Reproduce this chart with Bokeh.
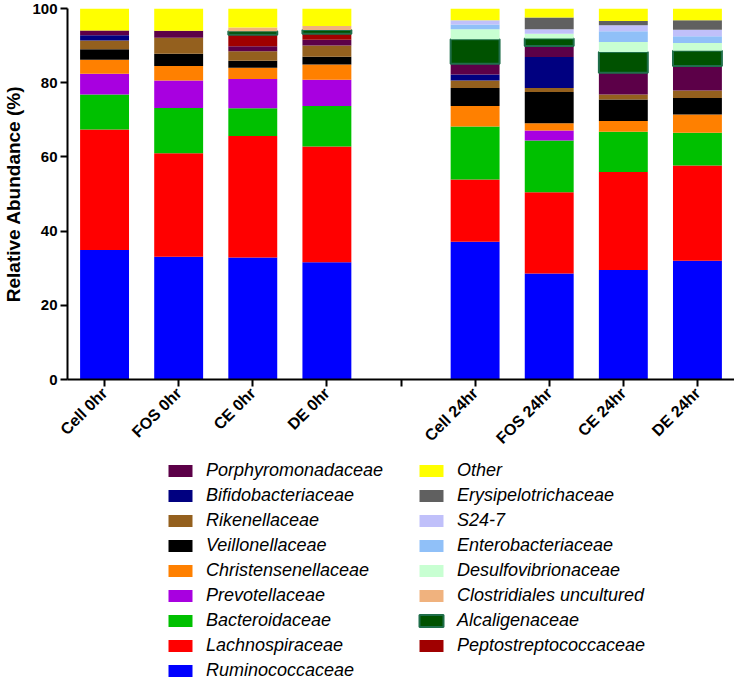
import math
from bokeh.plotting import figure
from bokeh.layouts import column
from bokeh.models import Legend, LegendItem, FactorRange, Range1d, ColumnDataSource
from bokeh.embed import file_html
from bokeh.resources import INLINE

# ---- data ----
slots = ["Cell 0hr", "FOS 0hr", "CE 0hr", "DE 0hr", " ", "Cell 24hr", "FOS 24hr", "CE 24hr", "DE 24hr"]
samples = ["Cell 0hr", "FOS 0hr", "CE 0hr", "DE 0hr", "Cell 24hr", "FOS 24hr", "CE 24hr", "DE 24hr"]

Ruminococcaceae = [34.9, 33.1, 32.9, 31.6, 37.1, 28.6, 29.5, 32.0]
Lachnospiraceae = [32.5, 27.9, 32.7, 31.2, 16.8, 21.9, 26.4, 25.7]
Bacteroidaceae = [9.4, 12.2, 7.5, 10.9, 14.3, 13.9, 10.9, 8.8]
Prevotellaceae = [5.6, 7.4, 7.9, 7.1, 0.0, 2.7, 0.0, 0.0]
Christensenellaceae = [3.8, 3.9, 3.0, 4.1, 5.5, 2.0, 2.9, 4.9]
Veillonellaceae = [2.8, 3.3, 1.9, 2.1, 4.9, 8.4, 5.8, 4.5]
Rikenellaceae = [2.4, 4.3, 2.6, 3.0, 2.0, 1.1, 1.3, 2.0]
Bifidobacteriaceae = [1.4, 0.0, 0.0, 0.0, 1.6, 8.3, 0.0, 0.0]
Porphyromonadaceae = [1.3, 1.9, 1.3, 1.6, 2.9, 3.0, 5.9, 6.6]
Peptostreptococcaceae = [0.0, 0.0, 3.1, 1.6, 0.0, 0.0, 0.0, 0.0]
Alcaligenaceae = [0.0, 0.0, 1.0, 1.0, 6.6, 2.0, 5.6, 4.1]
Clostridiales_uncultured = [0.0, 0.0, 1.0, 1.1, 0.0, 0.0, 0.0, 0.0]
Desulfovibrionaceae = [0.0, 0.0, 0.0, 0.0, 2.7, 1.3, 2.7, 2.1]
Enterobacteriaceae = [0.0, 0.0, 0.0, 0.0, 1.3, 0.0, 2.9, 1.8]
S24_7 = [0.0, 0.0, 0.0, 0.0, 1.1, 1.2, 1.6, 1.8]
Erysipelotrichaceae = [0.0, 0.0, 0.0, 0.0, 0.0, 3.2, 1.1, 2.5]
Other = [5.9, 6.0, 5.1, 4.7, 3.2, 2.4, 3.4, 3.2]

# stack order bottom -> top
families = ["Ruminococcaceae", "Lachnospiraceae", "Bacteroidaceae", "Prevotellaceae",
            "Christensenellaceae", "Veillonellaceae", "Rikenellaceae", "Bifidobacteriaceae",
            "Porphyromonadaceae", "Peptostreptococcaceae", "Alcaligenaceae",
            "Clostridiales uncultured", "Desulfovibrionaceae", "Enterobacteriaceae",
            "S24-7", "Erysipelotrichaceae", "Other"]
values = [Ruminococcaceae, Lachnospiraceae, Bacteroidaceae, Prevotellaceae,
          Christensenellaceae, Veillonellaceae, Rikenellaceae, Bifidobacteriaceae,
          Porphyromonadaceae, Peptostreptococcaceae, Alcaligenaceae,
          Clostridiales_uncultured, Desulfovibrionaceae, Enterobacteriaceae,
          S24_7, Erysipelotrichaceae, Other]
colors = ["#0000ff", "#ff0000", "#00c000", "#a800e0",
          "#ff8000", "#000000", "#94601e", "#000080",
          "#5c0048", "#a00000", "#005200",
          "#f0b27e", "#c8ffd2", "#90c0f8",
          "#c0c0fa", "#606060", "#ffff00"]

legend_col1 = ["Porphyromonadaceae", "Bifidobacteriaceae", "Rikenellaceae", "Veillonellaceae",
               "Christensenellaceae", "Prevotellaceae", "Bacteroidaceae", "Lachnospiraceae",
               "Ruminococcaceae"]
legend_col2 = ["Other", "Erysipelotrichaceae", "S24-7", "Enterobacteriaceae",
               "Desulfovibrionaceae", "Clostridiales uncultured", "Alcaligenaceae",
               "Peptostreptococcaceae"]

FONT = "Liberation Sans"

data = {"sample": samples}
for name, vals in zip(families, values):
    data[name] = vals
# outline only on non-empty Alcaligenaceae segments
data["alc_edge"] = [1.0 if v > 0 else 0.0 for v in Alcaligenaceae]
source = ColumnDataSource(data)

edge_colors = ["#1f6e4a" if f == "Alcaligenaceae" else None for f in families]
edge_alpha = ["alc_edge" if f == "Alcaligenaceae" else 0.0 for f in families]

# ---------------- main chart ----------------
p = figure(x_range=FactorRange(factors=slots), y_range=Range1d(0, 100),
           width=734, height=455, output_backend="svg", toolbar_location=None,
           min_border_left=50, min_border_right=0, min_border_top=8, min_border_bottom=60)

renderers = p.vbar_stack(families, x="sample", width=0.66, source=source,
                         fill_color=colors, line_color=edge_colors, line_width=2,
                         line_alpha=edge_alpha)

p.xgrid.visible = False
p.ygrid.visible = False
p.outline_line_color = None

for ax in (p.xaxis[0], p.yaxis[0]):
    ax.axis_line_width = 2
    ax.axis_line_color = "black"
    ax.major_tick_line_width = 2
    ax.major_tick_in = 0
    ax.major_tick_out = 7
    ax.minor_tick_line_color = None
    ax.major_label_text_font = FONT
    ax.major_label_text_font_style = "bold"
    ax.major_label_text_color = "black"

p.yaxis.ticker = [0, 20, 40, 60, 80, 100]
p.yaxis.major_label_text_font_size = "15px"
p.yaxis.major_label_standoff = 3
p.yaxis.axis_label = "Relative Abundance (%)"
p.yaxis.axis_label_text_font = FONT
p.yaxis.axis_label_text_font_style = "bold"
p.yaxis.axis_label_text_font_size = "19px"
p.yaxis.axis_label_text_color = "black"
p.yaxis.axis_label_standoff = 5

p.xaxis.major_label_orientation = math.pi / 4
p.xaxis.major_label_text_font_size = "16px"
p.xaxis.major_label_standoff = 4

# ---------------- legend panel ----------------
lp = figure(x_range=FactorRange(factors=slots), y_range=Range1d(0, 100),
            width=734, height=226, output_backend="svg", toolbar_location=None,
            x_axis_location=None, y_axis_location=None,
            min_border=0, outline_line_color=None)
lp.grid.visible = False
leg_renderers = lp.vbar_stack(families, x="sample", width=0.66, source=source,
                              fill_color=colors, line_color=edge_colors, line_width=2)
for r in leg_renderers:
    r.visible = False
by_name = dict(zip(families, leg_renderers))

def make_legend(names, loc):
    items = [LegendItem(label=n, renderers=[by_name[n]]) for n in names]
    return Legend(items=items, location=loc, orientation="vertical",
                  glyph_width=30, glyph_height=15, label_standoff=11,
                  label_text_font=FONT, label_text_font_style="italic",
                  label_text_font_size="18px", label_text_color="black",
                  label_height=21, spacing=4, padding=0, margin=0,
                  inactive_fill_alpha=0.0,
                  border_line_color=None, background_fill_alpha=0)

lp.add_layout(make_legend(legend_col1, (98, 0)), "center")
lp.add_layout(make_legend(legend_col2, (349, 25)), "center")

layout = column(p, lp, spacing=0)
open("out.html", "w").write(file_html(layout, INLINE))
